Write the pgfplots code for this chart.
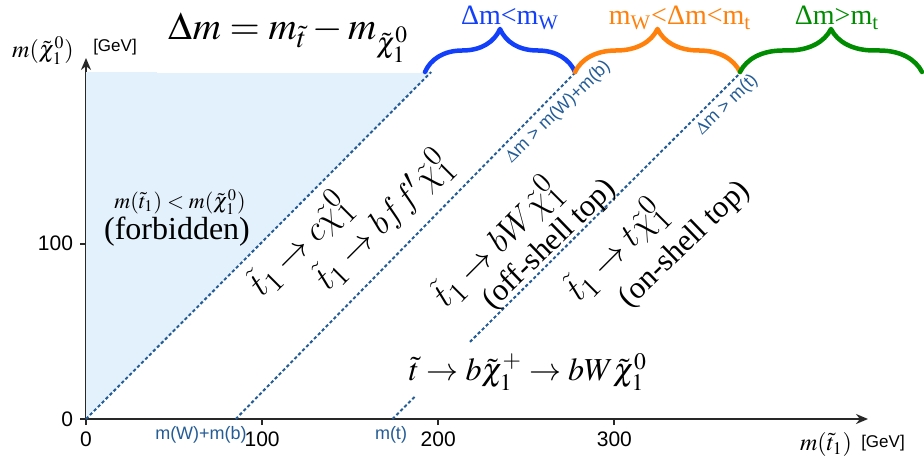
\documentclass[border=0pt]{standalone}
\usepackage{mathptmx}
\usepackage[no-math]{fontspec}
\setmainfont{Liberation Serif}
\setsansfont{Liberation Sans}
\usepackage{pgfplots}
\pgfplotsset{compat=1.18}
\usetikzlibrary{arrows.meta,decorations.pathreplacing}

% Latin Modern math for the decay chains
\DeclareMathVersion{lm}
\SetSymbolFont{operators}{lm}{OT1}{lmr}{m}{n}
\SetSymbolFont{letters}{lm}{OML}{lmm}{m}{it}
\SetSymbolFont{symbols}{lm}{OMS}{lmsy}{m}{n}
\SetSymbolFont{largesymbols}{lm}{OMX}{lmex}{m}{n}

\definecolor{forbid}{RGB}{227,241,252}
\definecolor{dline}{RGB}{36,92,150}
\definecolor{bblue}{RGB}{18,64,250}
\definecolor{borange}{RGB}{255,128,10}
\definecolor{bgreen}{RGB}{0,140,0}
\definecolor{axcol}{RGB}{40,40,40}

\newcommand{\fs}[1]{\fontsize{#1bp}{#1bp}\selectfont}
% extra group keeps the \aftergroup of \mathversion inside the node box
\newcommand{\chainlm}[1]{{\mathversion{lm}\fs{18.5}$#1$}}

\begin{document}
\begin{tikzpicture}
\begin{axis}[
  scale only axis, width=391bp, height=180.5bp,
  xmin=0, xmax=444, ymin=0, ymax=206,
  axis lines=left,
  axis line style={line width=1bp, axcol, -{Stealth[length=6bp,width=5bp]}},
  xtick={0,100,200,300}, ytick={0,100},
  tick align=outside, major tick length=3bp,
  tick style={line width=1bp, axcol},
  ticklabel style={font=\sffamily\fs{10.5}, text=black},
  /pgf/number format/assume math mode=true,
  clip=false,
  dlines/.style={dline, line width=1bp, dash pattern=on 1.6bp off 1.2bp},
]
% kinematically forbidden region
\addplot[draw=none, fill=forbid] coordinates {(0,0) (196,198) (0,198)};
% thresholds: dm = 0, dm = m(W)+m(b), dm = m(t)
\addplot[dlines] coordinates {(0,0) (196,198)};
\addplot[dlines] coordinates {(85,0) (278,198)};
\addplot[dlines] coordinates {(174,0) (187,13)};
\addplot[dlines] coordinates {(218,44) (372,198)};
\coordinate (O) at (axis cs:0,0);
\end{axis}

\begin{scope}[shift={(O)}, shift={(-43bp,209.5bp)}, x=0.5bp, y=0.5bp]
  % title on a white band
  \fill[white] (157,-4) rectangle (421,-73);
  \node[anchor=base, inner sep=0pt] at (289,-40) {\fs{19.5}$\Delta m = m_{\tilde{t}} - m_{\tilde{\chi}_1^0}$};

  % axis labels
  \node[inner sep=0pt] at (43,-51) {\fs{12}$m(\tilde{\chi}_1^0)$};
  \node[inner sep=0pt] at (115,-47) {\sffamily\fs{8.5}[GeV]};
  \node[inner sep=0pt] at (826,-445) {\fs{12}$m(\tilde{t}_1)$};
  \node[inner sep=0pt] at (883,-443) {\sffamily\fs{8.5}[GeV]};

  % threshold labels
  \node[inner sep=0pt, text=dline] at (201,-435) {\sffamily\fs{9}m(W)+m(b)};
  \node[inner sep=0pt, text=dline] at (391,-435) {\sffamily\fs{9}m(t)};
  \node[inner sep=0pt, text=dline, rotate=44] at (558,-112) {\sffamily\fs{9}$\Delta$m > m(W)+m(b)};
  \node[inner sep=0pt, text=dline, rotate=44] at (727,-105) {\sffamily\fs{9}$\Delta$m > m(t)};

  % region texts
  \node[inner sep=0pt] at (180,-202) {\fs{11}$m(\tilde{t}_1) < m(\tilde{\chi}_1^0)$};
  \node[inner sep=0pt] at (177,-232) {\fs{16}(forbidden)};

  \node[inner sep=0pt, rotate=45] at (300,-245) {\chainlm{\tilde{t}_1 \to c\tilde{\chi}_1^0}};
  \node[inner sep=0pt, rotate=45] at (383,-221) {\chainlm{\tilde{t}_1 \to b f f'\tilde{\chi}_1^0}};
  \node[inner sep=0pt, rotate=45] at (497,-243) {\chainlm{\tilde{t}_1 \to bW\tilde{\chi}_1^0}};
  \node[inner sep=0pt, rotate=44] at (550,-245) {\fs{15.5}(off-shell top)};
  \node[inner sep=0pt, rotate=45] at (616,-251) {\chainlm{\tilde{t}_1 \to t\tilde{\chi}_1^0}};
  \node[inner sep=0pt, rotate=44] at (685,-245) {\fs{15.5}(on-shell top)};

  \node[inner sep=0pt] at (528,-372) {\fs{16}$\tilde{t} \to b\tilde{\chi}_1^{+} \to bW\tilde{\chi}_1^0$};

  % mass-splitting ranges
  \begin{scope}[line width=2.25bp, line cap=round, line join=round,
                decoration={brace, amplitude=21.5bp}]
    \draw[bblue, decorate] (425,-72) -- (575,-72);
    \draw[borange, decorate] (575,-72) -- (740,-72);
    \draw[bgreen, decorate] (740,-72) -- (922,-72);
  \end{scope}
  \node[anchor=base, inner sep=0pt, text=bblue] at (510,-25) {\fs{14}Δm<m\textsubscript{W}};
  \node[anchor=base, inner sep=0pt, text=borange] at (680,-25) {\fs{14}m\textsubscript{W}<Δm<m\textsubscript{t}};
  \node[anchor=base, inner sep=0pt, text=bgreen] at (837,-25) {\fs{14}Δm>m\textsubscript{t}};

  \pgfresetboundingbox
  \path (0,0) rectangle (924,-457);
\end{scope}
\end{tikzpicture}
\end{document}
